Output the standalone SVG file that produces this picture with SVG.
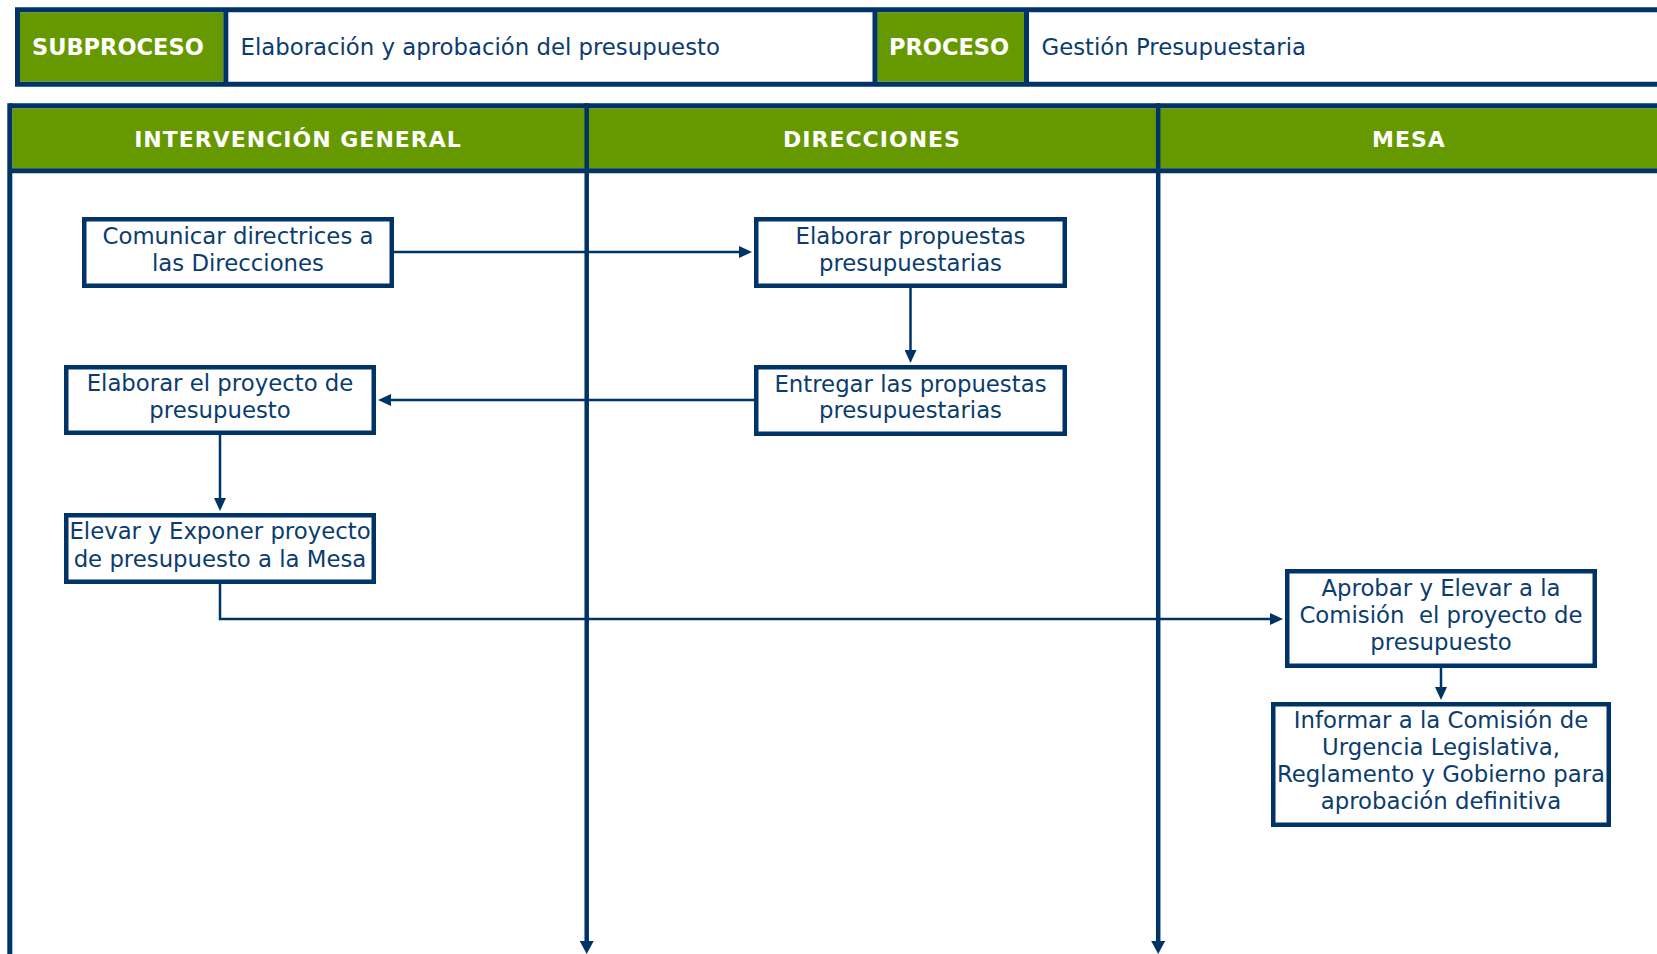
<svg xmlns="http://www.w3.org/2000/svg" width="1657" height="954" viewBox="0 0 1657 954">
  <defs>
    <style>
      .bg { fill: #ffffff; }
      .green { fill: #669900; }
      .frame { fill: none; stroke: #003366; stroke-width: 5; }
      .sep { stroke: #003366; stroke-width: 5; fill: none; }
      .hdr { font-family: "DejaVu Sans", Verdana, sans-serif; font-weight: bold; font-size: 22.5px; fill: #ffffff; }
      .hdrtxt { font-family: "DejaVu Sans", Verdana, sans-serif; font-size: 22.8px; fill: #0b3c6e; }
      .lane { font-family: "DejaVu Sans", Verdana, sans-serif; font-weight: bold; font-size: 22px; fill: #ffffff; text-anchor: middle; letter-spacing: 1px; }
      .box { fill: #ffffff; stroke: #003366; stroke-width: 4.5; }
      .btxt { font-family: "DejaVu Sans", Verdana, sans-serif; font-size: 22.8px; fill: #0b3c6e; text-anchor: middle; }
      .conn { fill: none; stroke: #003366; stroke-width: 2.5; marker-end: url(#arr); }
      .divider { fill: none; stroke: #003366; stroke-width: 4.5; }
    </style>
    <marker id="arr" viewBox="0 0 13 12" refX="1" refY="6" markerWidth="13" markerHeight="12" markerUnits="userSpaceOnUse" orient="auto">
      <path d="M0,0 L13,6 L0,12 z" fill="#003366"/>
    </marker>
    <marker id="arrL" viewBox="0 0 13 14" refX="1" refY="7" markerWidth="13" markerHeight="14" markerUnits="userSpaceOnUse" orient="auto">
      <path d="M0,0 L13,7 L0,14 z" fill="#003366"/>
    </marker>
  </defs>

  <rect class="bg" x="0" y="0" width="1657" height="954"/>

  <!-- Top header -->
  <g id="header">
    <rect class="green" x="20" y="12.3" width="203.3" height="69.4"/>
    <rect class="green" x="877.3" y="12.3" width="146.7" height="69.4"/>
    <path class="frame" d="M1670,9.8 H17.5 V84.2 H1670"/>
    <line class="sep" x1="225.8" y1="9.8" x2="225.8" y2="84.2"/>
    <line class="sep" x1="875" y1="9.8" x2="875" y2="84.2"/>
    <line class="sep" x1="1026.5" y1="9.8" x2="1026.5" y2="84.2"/>
    <text class="hdr" x="32" y="55">SUBPROCESO</text>
    <text class="hdrtxt" x="240.5" y="55">Elaboración y aprobación del presupuesto</text>
    <text class="hdr" x="889" y="55">PROCESO</text>
    <text class="hdrtxt" x="1041.5" y="55">Gestión Presupuestaria</text>
  </g>

  <!-- Swimlanes -->
  <g id="lanes">
    <rect class="green" x="12.3" y="108.3" width="1660" height="60"/>
    <line class="sep" x1="9.8" y1="105.8" x2="1670" y2="105.8"/>
    <line class="sep" x1="9.8" y1="170.8" x2="1670" y2="170.8"/>
    <line class="sep" x1="9.8" y1="103.3" x2="9.8" y2="954"/>
    <line class="divider" x1="586.7" y1="103.3" x2="586.7" y2="942" marker-end="url(#arrL)"/>
    <line class="divider" x1="1158.2" y1="103.3" x2="1158.2" y2="942" marker-end="url(#arrL)"/>
    <text class="lane" x="298" y="146.7">INTERVENCIÓN GENERAL</text>
    <text class="lane" x="872" y="146.7">DIRECCIONES</text>
    <text class="lane" x="1409" y="146.7">MESA</text>
  </g>

  <!-- Connectors -->
  <g id="connectors">
    <path class="conn" d="M394,252 H740"/>
    <path class="conn" d="M910.5,288 V351"/>
    <path class="conn" d="M754,400 H390"/>
    <path class="conn" d="M220,435 V499"/>
    <path class="conn" d="M220,584 V619 H1271"/>
    <path class="conn" d="M1441,668 V688"/>
  </g>

  <!-- Nodes -->
  <g id="n1">
    <rect class="box" x="84.25" y="219.25" width="307.5" height="66.5"/>
    <text class="btxt" x="238" y="244">Comunicar directrices a</text>
    <text class="btxt" x="238" y="271">las Direcciones</text>
  </g>
  <g id="n2">
    <rect class="box" x="756.25" y="219.25" width="308.5" height="66.5"/>
    <text class="btxt" x="910.5" y="244">Elaborar propuestas</text>
    <text class="btxt" x="910.5" y="271">presupuestarias</text>
  </g>
  <g id="n3">
    <rect class="box" x="756.25" y="367.25" width="308.5" height="66.5"/>
    <text class="btxt" x="910.5" y="391.5">Entregar las propuestas</text>
    <text class="btxt" x="910.5" y="418">presupuestarias</text>
  </g>
  <g id="n4">
    <rect class="box" x="66.25" y="367.25" width="307.5" height="65.5"/>
    <text class="btxt" x="220" y="391">Elaborar el proyecto de</text>
    <text class="btxt" x="220" y="418">presupuesto</text>
  </g>
  <g id="n5">
    <rect class="box" x="66.25" y="515.25" width="307.5" height="66.5"/>
    <text class="btxt" x="220" y="539">Elevar y Exponer proyecto</text>
    <text class="btxt" x="220" y="566.5">de presupuesto a la Mesa</text>
  </g>
  <g id="n6">
    <rect class="box" x="1287.25" y="571.25" width="307.5" height="94.5"/>
    <text class="btxt" x="1441" y="596">Aprobar y Elevar a la</text>
    <text class="btxt" x="1441" y="623" xml:space="preserve">Comisión  el proyecto de</text>
    <text class="btxt" x="1441" y="650">presupuesto</text>
  </g>
  <g id="n7">
    <rect class="box" x="1273.25" y="704.25" width="335.5" height="120.5"/>
    <text class="btxt" x="1441" y="728">Informar a la Comisión de</text>
    <text class="btxt" x="1441" y="755">Urgencia Legislativa,</text>
    <text class="btxt" x="1441" y="782">Reglamento y Gobierno para</text>
    <text class="btxt" x="1441" y="809">aprobación definitiva</text>
  </g>
</svg>
